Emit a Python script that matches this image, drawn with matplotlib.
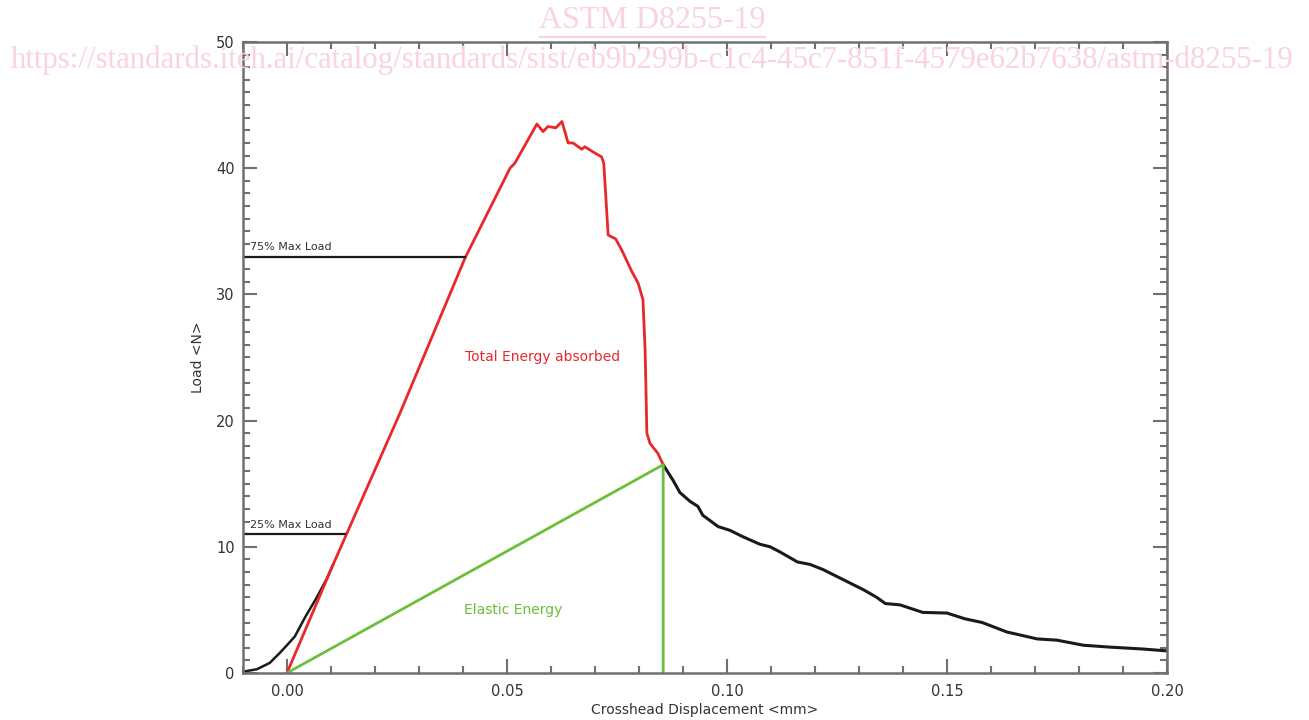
import matplotlib.pyplot as plt
from matplotlib.ticker import MultipleLocator

# red curve: toe-compensated load trace up to the elastic point
red_x = [0.0, 0.0105, 0.0257, 0.0405, 0.0507, 0.0518, 0.0568, 0.0582, 0.0593,
         0.0611, 0.0625, 0.0639, 0.0650, 0.0670, 0.0677, 0.0695, 0.0715, 0.0720,
         0.0730, 0.0747, 0.0761, 0.0784, 0.0798, 0.0809, 0.0814, 0.0818, 0.0825,
         0.0843, 0.0855]
red_y = [0.0, 8.6, 20.6, 32.9, 40.0, 40.4, 43.5, 42.9, 43.3,
         43.2, 43.7, 42.0, 42.0, 41.5, 41.7, 41.3, 40.9, 40.4,
         34.7, 34.4, 33.5, 31.8, 30.9, 29.6, 25.6, 19.0, 18.2,
         17.4, 16.5]

# black curve: raw toe region and post-failure tail
toe_x = [-0.010, -0.0068, -0.0039, -0.0016, 0.0, 0.0018, 0.0041, 0.0068, 0.0091, 0.0105]
toe_y = [0.1, 0.3, 0.8, 1.6, 2.2, 2.9, 4.4, 6.0, 7.5, 8.6]
tail_x = [0.0855, 0.0877, 0.0893, 0.0916, 0.0934, 0.0945, 0.0980, 0.1007, 0.1036,
          0.1075, 0.1098, 0.1120, 0.1160, 0.1189, 0.1218, 0.1264, 0.1310, 0.1340,
          0.1360, 0.1393, 0.1445, 0.1500, 0.1540, 0.1580, 0.1636, 0.1705, 0.1750,
          0.1810, 0.1870, 0.1945, 0.2000]
tail_y = [16.5, 15.3, 14.3, 13.6, 13.2, 12.5, 11.6, 11.3, 10.8,
          10.2, 10.0, 9.6, 8.8, 8.6, 8.2, 7.4, 6.6, 6.0,
          5.5, 5.4, 4.8, 4.75, 4.3, 4.0, 3.25, 2.7, 2.6,
          2.2, 2.05, 1.9, 1.75]

max_load = 44.0
elastic_x = 0.0855
elastic_y = 16.5
x75 = 0.0405
x25 = 0.0132

fig = plt.figure(figsize=(13.09, 7.2), dpi=100)
ax = fig.add_axes([0.1856, 0.0653, 0.7059, 0.8764])

black = '#1a1a1a'
red = '#e8282b'
green = '#6cbf3c'
grey = '#707070'
txt = '#333333'

ax.plot(toe_x, toe_y, color=black, lw=1.8)
ax.plot(tail_x, tail_y, color=black, lw=2.2)
ax.plot(red_x, red_y, color=red, lw=2.0)
ax.plot([0, elastic_x, elastic_x], [0, elastic_y, 0], color=green, lw=2.0)

ax.plot([-0.01, x75], [0.75 * max_load] * 2, color=black, lw=1.6)
ax.plot([-0.01, x25], [0.25 * max_load] * 2, color=black, lw=1.6)
ax.text(-0.0085, 0.75 * max_load + 0.5, '75% Max Load', fontsize=8, color=txt)
ax.text(-0.0085, 0.25 * max_load + 0.5, '25% Max Load', fontsize=8, color=txt)

ax.text(0.058, 25.0, 'Total Energy absorbed', color=red, fontsize=10,
        ha='center', va='center')
ax.text(0.0515, 5.0, 'Elastic Energy', color=green, fontsize=10,
        ha='center', va='center')

ax.set_xlim(-0.01, 0.20)
ax.set_ylim(0, 50)
ax.xaxis.set_major_locator(MultipleLocator(0.05))
ax.xaxis.set_minor_locator(MultipleLocator(0.01))
ax.yaxis.set_major_locator(MultipleLocator(10))
ax.yaxis.set_minor_locator(MultipleLocator(1))
ax.xaxis.set_major_formatter(plt.FormatStrFormatter('%.2f'))
ax.tick_params(which='both', direction='in', top=True, right=True,
               color=grey, width=1.5, labelcolor=txt, labelsize=10.5)
ax.tick_params(which='major', length=10)
ax.tick_params(which='minor', length=5)
ax.tick_params(axis='x', which='major', pad=8)
ax.tick_params(axis='y', which='major', pad=6)
for s in ax.spines.values():
    s.set_color(grey)
    s.set_linewidth(1.8)

ax.set_xlabel('Crosshead Displacement <mm>', fontsize=10, color=txt, labelpad=3)
ax.set_ylabel('Load <N>', fontsize=10, color=txt, labelpad=8)

# watermark
pink = '#f9d3df'
fig.text(0.4985, 0.972, 'ASTM D8255-19', family='Liberation Serif', fontsize=23,
         color=pink, ha='center', va='center')
fig.add_artist(plt.Line2D([0.4125, 0.5845], [0.949, 0.949], color=pink, lw=1.5))
fig.text(0.4985, 0.916,
         'https://standards.iteh.ai/catalog/standards/sist/eb9b299b-c1c4-45c7-851f-4579e62b7638/astm-d8255-19',
         family='Liberation Serif', fontsize=22.2, color=pink, ha='center', va='center',
         zorder=10)

fig.savefig('out.png', dpi=100)
